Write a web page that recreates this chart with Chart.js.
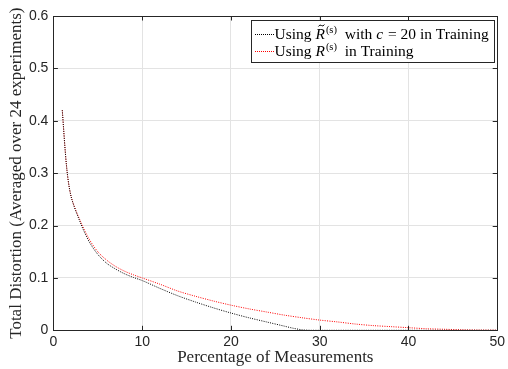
<!DOCTYPE html>
<html><head><meta charset="utf-8">
<script src="https://cdn.jsdelivr.net/npm/chart.js@4"></script>
<style>html,body{margin:0;padding:0;background:#fff}#wrap{width:508px;height:369px}</style>
</head><body><div id="wrap"><canvas id="c" width="508" height="369"></canvas></div>
<script>
const xTicks = [0, 10, 20, 30, 40, 50];
const yTicks = [0, 0.1, 0.2, 0.3, 0.4, 0.5, 0.6];
const xRed = [1, 1.5, 2, 3, 4, 5, 6, 7, 8, 9, 10, 12, 14, 16, 18, 20, 22, 24, 26, 28, 30, 32, 34, 36, 38, 40, 42, 44, 46, 48, 50];
const yRed = [0.42, 0.31, 0.255, 0.21, 0.175, 0.15, 0.134, 0.122, 0.113, 0.106, 0.100, 0.088, 0.075, 0.065, 0.056, 0.048, 0.041, 0.035, 0.029, 0.024, 0.0195, 0.016, 0.012, 0.009, 0.007, 0.005, 0.003, 0.002, 0.001, 0.0005, 0.0003];
const xBlack = [1, 1.5, 2, 3, 4, 5, 6, 7, 8, 9, 10, 12, 14, 16, 18, 20, 22, 24, 26, 27, 28, 29, 30, 35, 40, 45, 50];
const yBlack = [0.42, 0.31, 0.255, 0.207, 0.17, 0.145, 0.128, 0.117, 0.108, 0.101, 0.095, 0.080, 0.066, 0.054, 0.043, 0.033, 0.024, 0.016, 0.008, 0.004, 0.001, 0, 0, 0, 0, 0, 0];

const AX = '#262626';
const frame = {
  id: 'frame',
  afterDraw(chart) {
    const {ctx, chartArea: a, scales: {x, y}} = chart;
    ctx.save();
    ctx.strokeStyle = AX; ctx.lineWidth = 1;
    ctx.strokeRect(Math.round(a.left) + 0.5, Math.round(a.top) + 0.5, Math.round(a.right - a.left), Math.round(a.bottom - a.top));
    ctx.beginPath();
    xTicks.forEach(v => {
      const px = Math.round(x.getPixelForValue(v)) + 0.5;
      ctx.moveTo(px, a.bottom); ctx.lineTo(px, a.bottom - 4.5);
      ctx.moveTo(px, a.top); ctx.lineTo(px, a.top + 4.5);
    });
    yTicks.forEach(v => {
      const py = Math.round(y.getPixelForValue(v)) + 0.5;
      ctx.moveTo(a.left, py); ctx.lineTo(a.left + 4.5, py);
      ctx.moveTo(a.right, py); ctx.lineTo(a.right - 4.5, py);
    });
    ctx.stroke();
    // legend
    const bw = 243, bh = 42;
    const bx = Math.round(a.right - 3 - bw) + 0.5, by = Math.round(a.top + 4) + 0.5;
    ctx.fillStyle = '#fff';
    ctx.fillRect(bx, by, bw, bh);
    ctx.strokeStyle = AX;
    ctx.strokeRect(bx, by, bw, bh);
    const rows = [
      {color: '#000', parts: [['Using ', 'n'], ['R', 'i', true], ['(s)', 'sup'], ['  with ', 'n'], ['c', 'i'], [' = ', 'n'], ['20 in Training', 'n']]},
      {color: '#ff0000', parts: [['Using ', 'n'], ['R', 'i'], ['(s)', 'sup'], ['  in Training', 'n']]}
    ];
    rows.forEach((r, i) => {
      const ly = Math.round(by + 13 + i * 17);
      ctx.fillStyle = r.color;
      for (let k = Math.round(bx) + 3; k < Math.round(bx) + 22; k += 2) ctx.fillRect(k, ly, 1, 1);
      let tx = bx + 23;
      ctx.fillStyle = '#000'; ctx.textBaseline = 'middle';
      r.parts.forEach(p => {
        let f, dy = 1;
        if (p[1] === 'n') f = '15.5px "Liberation Serif"';
        else if (p[1] === 'i') f = 'italic 15.5px "Liberation Serif"';
        else { f = '10.5px "Liberation Serif"'; dy = -4; }
        ctx.font = f;
        ctx.fillText(p[0], tx, ly + dy);
        let w = ctx.measureText(p[0]).width;
        if (p[2]) {
          ctx.strokeStyle = '#000'; ctx.lineWidth = 1;
          ctx.beginPath();
          const cx = tx + 6, cy = ly - 8.5;
          ctx.moveTo(cx - 3, cy + 1); ctx.quadraticCurveTo(cx - 1.5, cy - 1.5, cx, cy); ctx.quadraticCurveTo(cx + 1.5, cy + 1.5, cx + 3, cy - 1);
          ctx.stroke();
        }
        if (p[1] === 'i') w += 1;
        tx += w;
      });
    });
    ctx.restore();
  }
};

const dot = [1, 1.3];
new Chart(document.getElementById('c'), {
  type: 'line',
  data: {
    datasets: [
      {label: 'black', data: xBlack.map((v, i) => ({x: v, y: yBlack[i]})), borderColor: '#000', borderWidth: 1, borderDash: dot, pointRadius: 0, tension: 0.3, fill: false},
      {label: 'red', data: xRed.map((v, i) => ({x: v, y: yRed[i]})), borderColor: '#ff0000', borderWidth: 1, borderDash: dot, pointRadius: 0, tension: 0.3, fill: false}
    ]
  },
  options: {
    responsive: false, animation: false, devicePixelRatio: 1,
    layout: {padding: {top: 16, right: 8, left: 0, bottom: 0}},
    plugins: {legend: {display: false}, tooltip: {enabled: false}},
    scales: {
      x: {
        type: 'linear', min: 0, max: 50,
        afterBuildTicks: s => { s.ticks = xTicks.map(v => ({value: v})); },
        afterFit: s => { s.height = 38.7; },
        grid: {color: '#e3e3e3', drawTicks: false},
        border: {display: false},
        ticks: {color: AX, font: {family: '"Liberation Sans"', size: 14}, padding: 3, maxRotation: 0},
        title: {display: true, text: 'Percentage of Measurements', color: AX, font: {family: '"Liberation Serif"', size: 17}, padding: {top: 0, bottom: 1}}
      },
      y: {
        min: 0, max: 0.6,
        afterBuildTicks: s => { s.ticks = yTicks.map(v => ({value: v})); },
        afterFit: s => { s.width = 53.4; },
        grid: {color: '#e3e3e3', drawTicks: false},
        border: {display: false},
        ticks: {color: AX, font: {family: '"Liberation Sans"', size: 14}, padding: 5, callback: v => (v === 0 ? '0' : v.toFixed(1))},
        title: {display: true, text: 'Total Distortion (Averaged over 24 experiments)', color: AX, font: {family: '"Liberation Serif"', size: 17}, padding: {top: 6, bottom: 0}}
      }
    }
  },
  plugins: [frame]
});
</script></body></html>
